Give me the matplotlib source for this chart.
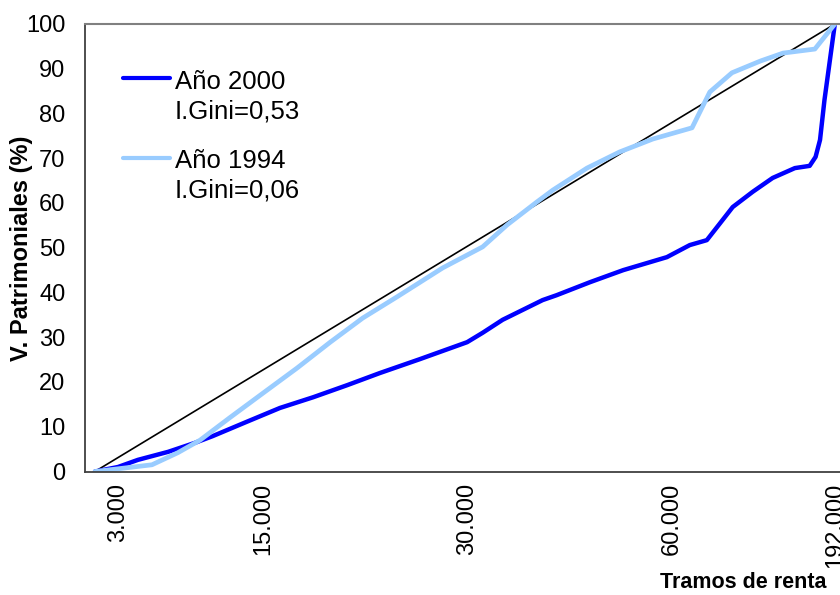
import matplotlib.pyplot as plt
from matplotlib.lines import Line2D

plt.rcParams['font.family'] = ['Liberation Sans', 'DejaVu Sans']

# cumulative population (%) vs cumulative wealth (%)
x_2000 = [0, 3.1, 5.8, 9.9, 13.5, 15.9, 20.5, 25.0, 29.5, 34.1, 38.5, 43.9, 50.3,
          52.4, 55.1, 57.8, 60.5, 62.4, 66.9, 71.4, 77.3, 80.4, 82.7, 84.5, 86.2,
          88.9, 91.6, 94.6, 96.6, 97.4, 98.0, 98.6, 100]
y_2000 = [0, 1.0, 2.6, 4.4, 6.4, 7.9, 11.1, 14.2, 16.6, 19.3, 22.0, 25.1, 28.9,
          31.0, 33.9, 36.1, 38.3, 39.4, 42.3, 45.0, 47.9, 50.6, 51.7, 55.5, 59.1,
          62.5, 65.6, 67.8, 68.3, 70.3, 74.1, 83.0, 100]

x_1994 = [0, 3.1, 7.7, 11.2, 14.2, 18.2, 22.7, 27.3, 31.8, 36.2, 40.8, 47.0, 52.4,
          55.7, 59.7, 61.9, 66.5, 70.9, 75.4, 80.7, 83.1, 86.1, 89.9, 93.0, 97.3,
          100]
y_1994 = [0, 0.6, 1.5, 4.2, 7.0, 12.0, 17.5, 23.1, 28.9, 34.3, 39.0, 45.5, 50.2,
          55.1, 60.2, 62.9, 67.8, 71.4, 74.3, 76.8, 84.8, 89.1, 91.7, 93.5, 94.4,
          100]

tick_pos = [3.1, 22.7, 50.3, 78.0, 100]
tick_lab = ['3.000', '15.000', '30.000', '60.000', '192.000']

W, H = 840, 595
def px(x, y):
    return x / W, 1 - y / H

fig = plt.figure(figsize=(8.4, 5.95), dpi=100)
ax = fig.add_axes([85 / W, 123.5 / H, 1 - 85 / W, 447.5 / H])

ax.plot([0, 100], [0, 100], color='black', lw=1.2)
ax.plot(x_2000, y_2000, color='#0000FF', lw=3.2, solid_capstyle='round',
        solid_joinstyle='round')
ax.plot(x_1994, y_1994, color='#99CCFF', lw=3.4, solid_capstyle='round')

ax.set_xlim(-1.35, 100.7)
ax.set_ylim(0, 100)
ax.set_yticks(range(0, 101, 10))
ax.set_xticks(tick_pos)
ax.set_xticklabels(tick_lab, rotation=90, va='top', ha='center')
ax.tick_params(axis='y', length=0, pad=14, labelsize=17)
ax.tick_params(axis='x', length=0, pad=8, labelsize=17)

ax.spines['right'].set_visible(False)
ax.spines['top'].set_color('#808080')
ax.spines['top'].set_linewidth(1.5)
for s in ['left', 'bottom']:
    ax.spines[s].set_color('#404040')
    ax.spines[s].set_linewidth(1.3)

# legend drawn by hand (two-line labels, handle at first line)
fig.add_artist(Line2D([123 / W, 170 / W], [1 - 78 / H, 1 - 78 / H],
                      color='#0000FF', lw=3, solid_capstyle='round'))
fig.add_artist(Line2D([123 / W, 170 / W], [1 - 158 / H, 1 - 158 / H],
                      color='#99CCFF', lw=3, solid_capstyle='round'))
for txt, yb in [('Año 2000', 89), ('I.Gini=0,53', 118),
                ('Año 1994', 168), ('I.Gini=0,06', 198)]:
    fig.text(*px(175, yb), txt, fontsize=18.5, va='baseline', ha='left')

fig.text(*px(826, 583), 'Tramos de renta', fontsize=15.5, fontweight='bold',
         ha='right', va='center')
fig.text(*px(22, 248), 'V. Patrimoniales (%)', fontsize=17, fontweight='bold',
         rotation=90, ha='center', va='center')

fig.savefig('out.png', dpi=100)
